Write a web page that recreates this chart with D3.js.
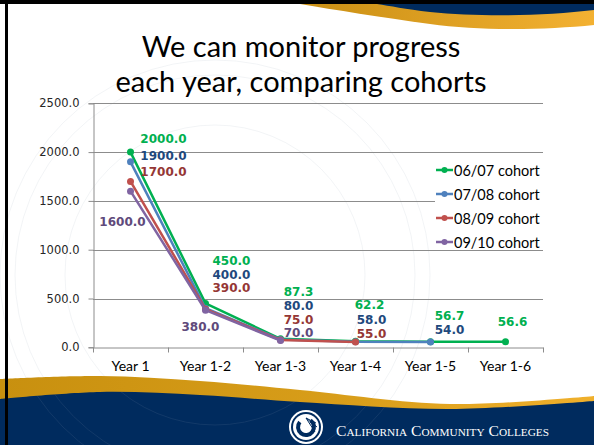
<!DOCTYPE html>
<html>
<head>
<meta charset="utf-8">
<script src="https://cdn.jsdelivr.net/npm/d3@7"></script>
<style>
  html, body { margin: 0; padding: 0; background: #fff; }
  svg { display: block; }
</style>
</head>
<body>
<script>
//DATA
const categories = ['Year 1', 'Year 1-2', 'Year 1-3', 'Year 1-4', 'Year 1-5', 'Year 1-6']
const cohorts = ['06/07 cohort', '07/08 cohort', '08/09 cohort', '09/10 cohort']
const cohort0607 = [2000, 450, 87.3, 62.2, 56.7, 56.6]
const cohort0708 = [1900, 400, 80, 58, 54]
const cohort0809 = [1700, 390, 75, 55]
const cohort0910 = [1600, 380, 70]
const yTicks = [0, 500, 1000, 1500, 2000, 2500]

//STYLE / LAYOUT (not data)
const w = 594
const h = 445
const lineColors = ['#00B050', '#4F81BD', '#C0504D', '#8064A2']
const labelColors = ['#00B050', '#1F497D', '#953735', '#604A7B']
// manual nudges of the value labels from their point, like the Excel slide
const labelNudge = [
  [[33, -13], [26, -42], [18, -47], [14, -36], [19, -26], [7, -20]],
  [[33, -6], [26, -33], [18, -33], [16, -22], [19, -12]],
  [[33, -9], [26, -21], [18, -20], [16, -8]],
  [[-8, 31], [-5, 17], [18, -7]]
]

const series = [cohort0607, cohort0708, cohort0809, cohort0910].map((vals, i) => ({
  name: cohorts[i],
  values: vals.map((v, j) => ({ cat: categories[j], v: v, j: j }))
}))

const svg = d3.select('body')
  .append('svg')
  .attr('width', w)
  .attr('height', h)

const defs = svg.append('defs')
const gTop = defs.append('linearGradient').attr('id', 'goldTop')
gTop.append('stop').attr('offset', '0%').attr('stop-color', '#C98F14')
gTop.append('stop').attr('offset', '100%').attr('stop-color', '#F3B132')
const gBot = defs.append('linearGradient').attr('id', 'goldBot')
gBot.append('stop').attr('offset', '0%').attr('stop-color', '#C8900F')
gBot.append('stop').attr('offset', '60%').attr('stop-color', '#D99E1A')
gBot.append('stop').attr('offset', '100%').attr('stop-color', '#F0B02C')

//Background
svg.append('rect').attr('width', w).attr('height', h).attr('fill', '#fff')

//faint seal watermark
const seal = svg.append('g').attr('fill', 'none').attr('stroke', '#8090a8').attr('stroke-opacity', 0.1)
seal.append('circle').attr('cx', 215).attr('cy', 275).attr('r', 215)
seal.append('circle').attr('cx', 215).attr('cy', 275).attr('r', 200)
seal.append('circle').attr('cx', 215).attr('cy', 275).attr('r', 150)

//Top swoosh
svg.append('path')
  .attr('d', 'M300,4 L594,4 L594,25 C545,30 480,31 430,24 C380,17 335,10 300,4 Z')
  .attr('fill', 'url(#goldTop)')
svg.append('path')
  .attr('d', 'M377,4 L594,4 L594,10 C545,16 480,17 430,12 C405,9 390,6 377,4 Z')
  .attr('fill', '#002B5E')

//Bottom band
const wave = d3.line().curve(d3.curveCatmullRom)
const goldTopPts = [[0, 379], [100, 376], [200, 381], [300, 390], [450, 404], [594, 396]]
const navyTopPts = [[0, 399], [100, 392], [200, 395], [300, 402], [450, 409], [594, 401]]
svg.append('path')
  .attr('d', wave(goldTopPts) + ' L594,445 L0,445 Z')
  .attr('fill', 'url(#goldBot)')
svg.append('path')
  .attr('d', wave(navyTopPts) + ' L594,445 L0,445 Z')
  .attr('fill', '#002B5E')

// seal continues faintly over the band
defs.append('clipPath').attr('id', 'bandClip')
  .append('path').attr('d', wave(navyTopPts) + ' L594,445 L0,445 Z')
svg.append('g').attr('fill', 'none').attr('stroke', '#ffffff').attr('stroke-opacity', 0.07)
  .attr('clip-path', 'url(#bandClip)')
  .selectAll('circle').data([215, 200, 150]).enter().append('circle')
  .attr('cx', 215).attr('cy', 275).attr('r', d => d)

//Frame
svg.append('rect').attr('x', 0).attr('y', 0).attr('width', w).attr('height', 4).attr('fill', '#000')
svg.append('rect').attr('x', 5).attr('y', 0).attr('width', 3).attr('height', h).attr('fill', '#000')

//Logo
const logo = svg.append('g').attr('transform', 'translate(306,427)')
logo.append('circle').attr('r', 17).attr('fill', '#fff')
logo.append('circle').attr('r', 15).attr('fill', '#002B5E')
logo.append('circle').attr('r', 13).attr('fill', '#fff')
logo.append('path')
  .attr('d', d3.arc().innerRadius(6).outerRadius(10).startAngle(0.6).endAngle(5.4)())
  .attr('fill', '#002B5E')
logo.append('path').attr('d', 'M0,-9 L10,-4 M0,-9 L11,0 M0,-9 L9,5').attr('stroke', '#002B5E').attr('stroke-width', 1)

const logoText = svg.append('text')
  .attr('x', 336).attr('y', 436)
  .attr('fill', '#fff')
  .style('font-family', '"Liberation Serif", "DejaVu Serif", serif')
const words = [['C', 'ALIFORNIA'], ['C', 'OMMUNITY'], ['C', 'OLLEGES']]
words.forEach((wd, i) => {
  logoText.append('tspan').attr('font-size', 15.5).text((i ? ' ' : '') + wd[0])
  logoText.append('tspan').attr('font-size', 11.2).text(wd[1])
})
logoText.attr('textLength', 213).attr('lengthAdjust', 'spacingAndGlyphs')

//Title
const title = svg.append('text')
  .attr('text-anchor', 'middle')
  .attr('fill', '#000')
  .style('font-family', 'Lato, "Open Sans", sans-serif')
  .style('font-size', '29px')
title.append('tspan').attr('x', 301).attr('y', 57).text('We can monitor progress')
title.append('tspan').attr('x', 301).attr('y', 92).text('each year, comparing cohorts')

//Scales
const plot = { left: 93, right: 543, top: 103.3, bottom: 347.3 }
const x = d3.scaleBand().domain(categories).range([plot.left, plot.right])
const y = d3.scaleLinear().domain([0, 2500]).range([plot.bottom, plot.top])
const cx = c => x(c) + x.bandwidth() / 2

//Gridlines
svg.append('g')
  .selectAll('line')
  .data(yTicks.filter(t => t > 0))
  .enter()
  .append('line')
  .attr('x1', plot.left).attr('x2', plot.right)
  .attr('y1', d => Math.round(y(d)) + 0.5).attr('y2', d => Math.round(y(d)) + 0.5)
  .attr('stroke', '#8c8c8c')
  .attr('stroke-width', 1)

//Y axis
const yAxis = d3.axisLeft(y).tickValues(yTicks).tickFormat(d3.format('.1f')).tickSize(5).tickPadding(9)
const gy = svg.append('g')
  .attr('transform', 'translate(' + (plot.left + 0.5) + ',0)')
  .call(yAxis)
gy.select('.domain').attr('stroke', '#8c8c8c')
gy.selectAll('.tick line').attr('stroke', '#8c8c8c')
gy.selectAll('.tick text')
  .attr('fill', '#262626')
  .style('font-family', '"DejaVu Sans", Verdana, sans-serif')
  .style('font-size', '11.5px')

//X axis
const xAxis = d3.axisBottom(x).tickSize(0).tickPadding(14)
const gx = svg.append('g')
  .attr('transform', 'translate(0,' + (Math.round(plot.bottom) + 0.5) + ')')
  .call(xAxis)
gx.select('.domain').attr('stroke', '#8c8c8c')
gx.selectAll('.tick text')
  .attr('fill', '#000')
  .style('font-family', 'Lato, "Open Sans", sans-serif')
  .style('font-size', '14px')
gx.selectAll('.sep')
  .data(d3.range(categories.length + 1))
  .enter()
  .append('line')
  .attr('x1', i => plot.left + i * x.step() + 0.5)
  .attr('x2', i => plot.left + i * x.step() + 0.5)
  .attr('y1', 0).attr('y2', 5)
  .attr('stroke', '#8c8c8c')

//Lines
const line = d3.line().x(d => cx(d.cat)).y(d => y(d.v))
const gSeries = svg.append('g')
  .selectAll('g')
  .data(series)
  .enter()
  .append('g')

gSeries.append('path')
  .attr('d', d => line(d.values))
  .attr('fill', 'none')
  .attr('stroke', (d, i) => lineColors[i])
  .attr('stroke-width', 2.5)
  .attr('stroke-linejoin', 'round')

gSeries.each(function(s, i) {
  d3.select(this).selectAll('circle')
    .data(s.values)
    .enter()
    .append('circle')
    .attr('cx', d => cx(d.cat))
    .attr('cy', d => y(d.v))
    .attr('r', 3.5)
    .attr('fill', lineColors[i])
})

//Value labels
series.forEach((s, i) => {
  svg.append('g')
    .selectAll('text')
    .data(s.values)
    .enter()
    .append('text')
    .attr('x', d => cx(d.cat) + labelNudge[i][d.j][0])
    .attr('y', d => y(d.v) + labelNudge[i][d.j][1])
    .attr('text-anchor', 'middle')
    .attr('dominant-baseline', 'central')
    .attr('fill', labelColors[i])
    .style('font-family', '"DejaVu Sans", Verdana, sans-serif')
    .style('font-weight', 'bold')
    .style('font-size', '12px')
    .text(d => d3.format('.1f')(d.v))
})

//Legend
const legend = svg.append('g').attr('transform', 'translate(436,170)')
legend.append('rect')
  .attr('x', -1).attr('y', -10)
  .attr('width', 108).attr('height', 84)
  .attr('fill', '#fff')
const item = legend.selectAll('.item')
  .data(cohorts)
  .enter()
  .append('g')
  .attr('transform', (d, i) => 'translate(0,' + (i * 24) + ')')
item.append('line')
  .attr('x1', 0).attr('x2', 17)
  .attr('stroke', (d, i) => lineColors[i])
  .attr('stroke-width', 2.5)
item.append('circle')
  .attr('cx', 8.5).attr('r', 3)
  .attr('fill', (d, i) => lineColors[i])
item.append('text')
  .attr('x', 18)
  .attr('dominant-baseline', 'central')
  .attr('fill', '#000')
  .style('font-family', 'Lato, "Open Sans", sans-serif')
  .style('font-size', '14.5px')
  .text(d => d)
</script>
</body>
</html>
